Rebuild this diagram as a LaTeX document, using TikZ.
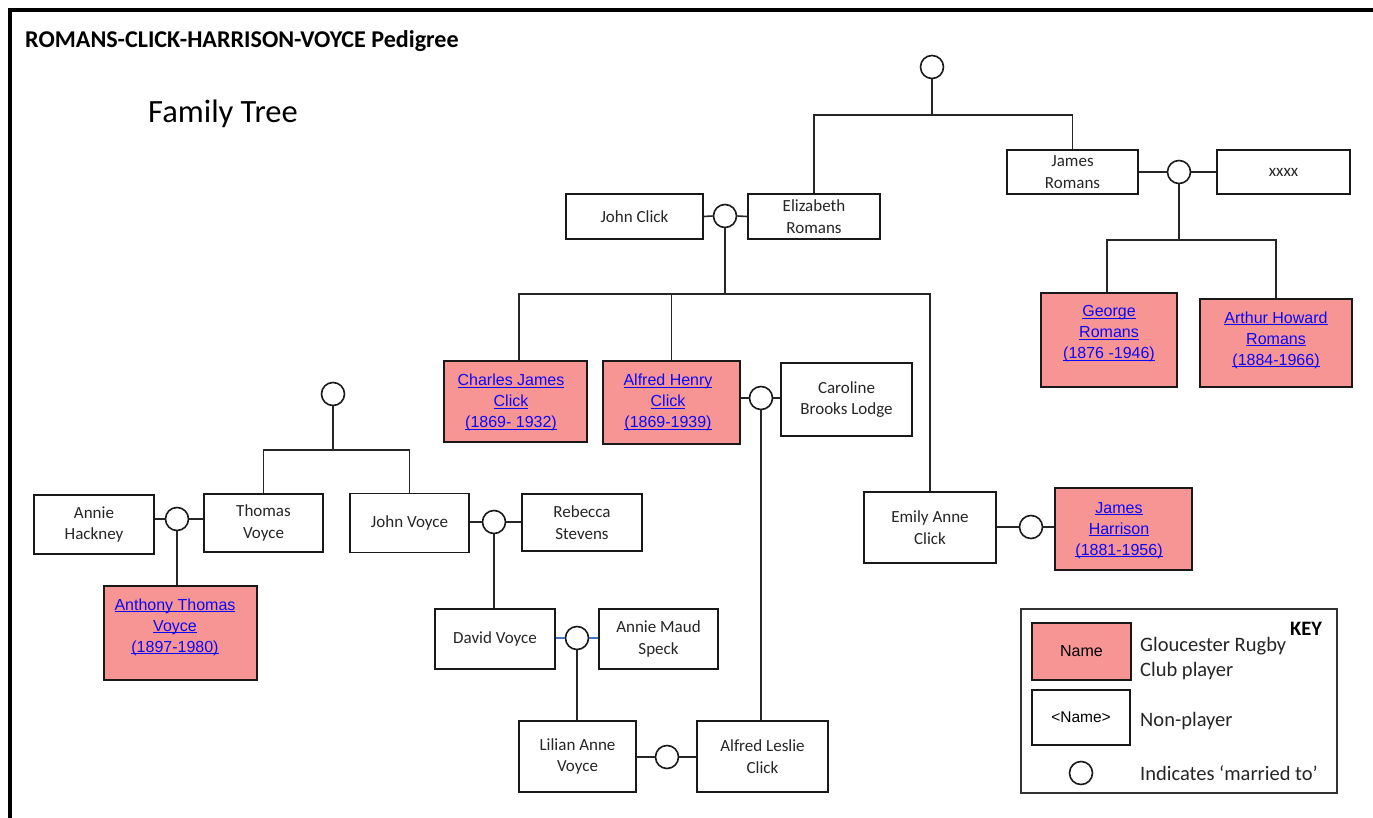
\documentclass[tikz,border=0pt]{standalone}
\usepackage{fontspec}
\setmainfont{Carlito}
\newfontfamily\arialf{Liberation Sans}
\definecolor{playerpink}{RGB}{247,148,148}
\definecolor{linkblue}{RGB}{10,10,245}
\definecolor{wedblue}{RGB}{68,114,196}
\newcommand\lk[1]{\setbox0=\hbox{#1}\rlap{\rule[-2pt]{\wd0}{1.1pt}}\box0}
\tikzset{
  person/.style={draw=black!90, line width=1.8pt, fill=white, align=center, inner sep=0pt,
    font=\fontsize{17}{21.5}\selectfont, text=black!85},
  player/.style={person, fill=playerpink},
  lnk/.style={align=center, inner sep=0pt, font=\arialf\fontsize{16}{21}\selectfont, text=linkblue},
  wed/.style={circle, draw=black!90, line width=1.6pt, minimum size=23pt, inner sep=0pt, fill=white},
  conn/.style={line width=1.6pt, draw=black!85},
  keytext/.style={anchor=base west, inner sep=0pt, font=\fontsize{20.5}{25}\selectfont, text=black!85}
}
\begin{document}
\begin{tikzpicture}[x=1pt, y=-1pt]
\useasboundingbox[fill=white] (0,0) rectangle (1373,818);
% frame
\draw[line width=4pt] (10,818) -- (10,10) -- (1373,10);
% titles
\node[anchor=base west, inner sep=0pt, font=\bfseries\fontsize{24.1}{29}\selectfont] (title) at (25,48) {ROMANS-CLICK-HARRISON-VOYCE Pedigree};
\node[anchor=base west, inner sep=0pt, font=\fontsize{32.5}{38}\selectfont] (ftree) at (148,123) {Family Tree};

% persons
\node[person, minimum width=137, minimum height=45] (jclick) at (634.5,216.5) {John Click};
\node[person, minimum width=132, minimum height=45] (eliz) at (814,216.5) {Elizabeth\\Romans};
\node[person, minimum width=131, minimum height=44] (jrom) at (1072.5,172) {James\\Romans};
\node[person, minimum width=133, minimum height=44] (xxxx) at (1283.5,172) {xxxx};
\node[player, minimum width=136, minimum height=94] (george) at (1109,340) {};
\node[lnk] (georget) at (1109,334) {\lk{George}\\\lk{Romans}\\\lk{(1876 -1946)}};
\node[player, minimum width=152, minimum height=88] (arthur) at (1276,343) {};
\node[lnk] (arthurt) at (1276,340) {\lk{Arthur Howard}\\\lk{Romans}\\\lk{(1884-1966)}};
\node[player, minimum width=143, minimum height=81] (charles) at (515.5,401.5) {};
\node[lnk] (charlest) at (511,402.5) {\lk{Charles James}\\\lk{Click}\\\lk{(1869- 1932)}};
\node[player, minimum width=137, minimum height=83] (alfredh) at (671.5,402.5) {};
\node[lnk] (alfredht) at (668,402.5) {\lk{Alfred Henry}\\\lk{Click}\\\lk{(1869-1939)}};
\node[person, minimum width=131, minimum height=73] (caroline) at (846.5,399.5) {Caroline\\Brooks Lodge};
\node[person, minimum width=132, minimum height=71] (emily) at (930,527.5) {Emily Anne\\Click};
\node[player, minimum width=137, minimum height=82] (jharr) at (1123.5,529) {};
\node[lnk] (jharrt) at (1119,530.5) {\lk{James}\\\lk{Harrison}\\\lk{(1881-1956)}};
\node[person, minimum width=120, minimum height=59] (hackney) at (94,524.5) {Annie\\Hackney};
\node[person, minimum width=119, minimum height=58] (thomas) at (263.5,523) {Thomas\\Voyce};
\node[player, minimum width=153, minimum height=94] (anthony) at (180.5,633) {};
\node[lnk] (anthonyt) at (175,627) {\lk{Anthony Thomas}\\\lk{Voyce}\\\lk{(1897-1980)}};
\node[person, minimum width=119, minimum height=59] (johnv) at (409.5,523) {John Voyce};
\node[person, minimum width=120, minimum height=57] (rebecca) at (582,522.5) {Rebecca\\Stevens};
\node[person, minimum width=120, minimum height=60] (david) at (495,639) {David Voyce};
\node[person, minimum width=119, minimum height=60] (anniem) at (658.5,639) {Annie Maud\\Speck};
\node[person, minimum width=117, minimum height=71] (lilian) at (577.5,756.5) {Lilian Anne\\Voyce};
\node[person, minimum width=131, minimum height=71] (alfredl) at (762.5,756.5) {Alfred Leslie\\Click};

% marriage circles
\node[wed] (tc) at (932,67) {};
\node[wed] (c1) at (725,216) {};
\node[wed] (c2) at (1179,172) {};
\node[wed] (c3) at (761,398) {};
\node[wed] (c4) at (1031,527) {};
\node[wed] (c5) at (333,394) {};
\node[wed] (c6) at (177,519) {};
\node[wed] (c7) at (494,522) {};
\node[wed] (c8) at (577,638) {};
\node[wed] (c9) at (667,757) {};

% junction coordinates
\coordinate (tj) at (932,115);
\coordinate (cj1) at (725,294);
\coordinate (cj2) at (1179,240);
\coordinate (cj5) at (333,450);

% connectors
\draw[conn] (tc.south) -- (tj);
\draw[conn] (eliz.north) |- (tj) -| (jrom.north);
\draw[conn] (jclick.east) -- (c1.west);
\draw[conn] (c1.east) -- (eliz.west);
\draw[conn] (c1.south) -- (cj1);
\draw[conn] ([xshift=3.5pt]charles.north) |- (cj1) -| (emily.north);
\draw[conn] (alfredh.north) -- (alfredh.north |- cj1);
\draw[conn] (jrom.east) -- (c2.west);
\draw[conn] (c2.east) -- (xxxx.west);
\draw[conn] (c2.south) -- (cj2);
\draw[conn] ([xshift=-2pt]george.north) |- (cj2) -| (arthur.north);
\draw[conn] (alfredh.east |- c3) -- (c3.west);
\draw[conn] (c3.east) -- (caroline.west |- c3);
\draw[conn] (c3.south) -- (c3.south |- alfredl.north);
\draw[conn] (emily.east |- c4) -- (c4.west);
\draw[conn] (c4.east) -- (jharr.west |- c4);
\draw[conn] (c5.south) -- (cj5);
\draw[conn] (thomas.north) |- (cj5) -| (johnv.north);
\draw[conn] (hackney.east |- c6) -- (c6.west);
\draw[conn] (c6.east) -- (thomas.west |- c6);
\draw[conn] (c6.south) -- (c6.south |- anthony.north);
\draw[conn] (johnv.east |- c7) -- (c7.west);
\draw[conn] (c7.east) -- (rebecca.west |- c7);
\draw[conn] (c7.south) -- (c7.south |- david.north);
\draw[line width=1.2pt, draw=wedblue] (david.east |- c8) -- (c8.west);
\draw[line width=1.2pt, draw=wedblue] (c8.east) -- (anniem.west |- c8);
\draw[conn] (c8.south) -- (c8.south |- lilian.north);
\draw[conn] (lilian.east |- c9) -- (c9.west);
\draw[conn] (c9.east) -- (alfredl.west |- c9);

% key
\node[draw=black!80, line width=1.2pt, minimum width=316, minimum height=184, inner sep=0pt] (key) at (1179,701) {};
\node[font=\bfseries\fontsize{20.5}{25}\selectfont, inner sep=0pt] (keyt) at (1306,629) {KEY};
\node[player, minimum width=99, minimum height=57, font=\arialf\fontsize{16}{20}\selectfont, text=black] (kname) at (1081.5,651.5) {Name};
\node[person, minimum width=98, minimum height=55, font=\arialf\fontsize{15.5}{20}\selectfont, text=black] (knon) at (1081,717.5) {<Name>};
\node[wed] (kc) at (1081,773) {};
\node[keytext] (k1) at (1140,651) {Gloucester Rugby};
\node[keytext] (k2) at (1140,676) {Club player};
\node[keytext] (k3) at (1140,726) {Non-player};
\node[keytext] (k4) at (1140,780) {Indicates ‘married to’};
\end{tikzpicture}
\end{document}
